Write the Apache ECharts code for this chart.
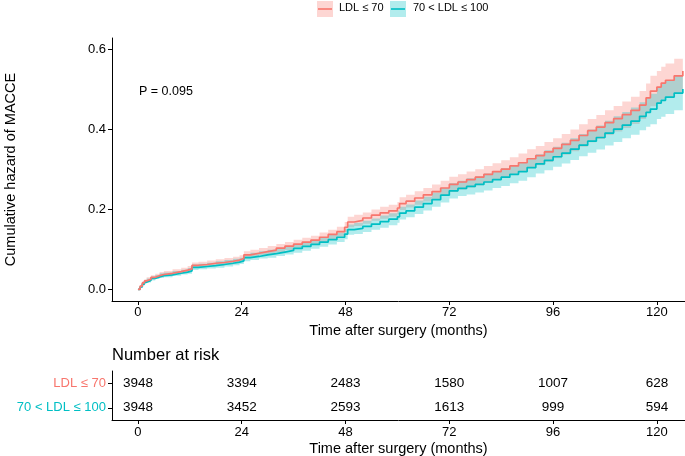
<!DOCTYPE html>
<html><head><meta charset="utf-8">
<script src="https://cdn.jsdelivr.net/npm/echarts@6/dist/echarts.min.js"></script>
<style>html,body{margin:0;padding:0;background:#fff}#c{width:685px;height:456px}</style>
</head><body><div id="c"></div>
<script>
// ---- data ----
const months = [0,0.5,1,1.5,2,3,4,5,6,8,10,11.5,12.5,14,16,18,20,22,23.5,24.5,26,28,30,32,34,36,38,40,42,44,46,47.8,48.5,50,52,54,56,58,60,60.5,62,64,66,68,70,72,74,76,78,80,82,84,86,88,90,92,94,96,98,100,102,104,106,108,110,112,114,116,117.5,118.5,120,121,122,124,126];

const ldl70 = [0,0.008,0.016,0.021,0.025,0.030,0.034,0.037,0.040,0.044,0.048,0.051,0.060,0.062,0.065,0.067,0.070,0.073,0.077,0.086,0.090,0.094,0.098,0.103,0.108,0.113,0.118,0.123,0.130,0.137,0.144,0.155,0.168,0.172,0.178,0.185,0.191,0.196,0.203,0.214,0.220,0.228,0.236,0.244,0.253,0.262,0.268,0.274,0.280,0.287,0.294,0.300,0.308,0.316,0.326,0.334,0.343,0.352,0.362,0.372,0.384,0.396,0.405,0.416,0.426,0.436,0.447,0.460,0.478,0.495,0.505,0.515,0.522,0.533,0.545];
const ldl70Lower = [0,0.005,0.012,0.017,0.020,0.025,0.029,0.031,0.034,0.038,0.042,0.044,0.053,0.055,0.058,0.059,0.062,0.065,0.069,0.077,0.081,0.085,0.088,0.093,0.098,0.102,0.107,0.112,0.118,0.125,0.132,0.142,0.155,0.158,0.164,0.171,0.176,0.181,0.188,0.198,0.204,0.211,0.219,0.226,0.235,0.243,0.249,0.254,0.260,0.266,0.273,0.278,0.286,0.293,0.302,0.310,0.318,0.327,0.336,0.345,0.356,0.367,0.375,0.385,0.394,0.403,0.413,0.425,0.442,0.457,0.465,0.474,0.480,0.490,0.500];
const ldl70Upper = [0,0.011,0.020,0.025,0.030,0.035,0.039,0.043,0.046,0.050,0.054,0.058,0.067,0.069,0.072,0.075,0.078,0.081,0.085,0.095,0.099,0.103,0.108,0.113,0.118,0.124,0.129,0.134,0.142,0.149,0.156,0.168,0.181,0.186,0.192,0.199,0.206,0.211,0.218,0.230,0.236,0.245,0.253,0.262,0.271,0.281,0.287,0.294,0.300,0.308,0.315,0.322,0.330,0.339,0.350,0.358,0.368,0.377,0.388,0.399,0.412,0.425,0.435,0.447,0.458,0.469,0.481,0.495,0.514,0.533,0.545,0.556,0.564,0.576,0.590];

const ldl100 = [0,0.006,0.013,0.018,0.022,0.027,0.031,0.034,0.036,0.040,0.043,0.046,0.055,0.057,0.059,0.062,0.065,0.068,0.071,0.079,0.082,0.086,0.089,0.093,0.097,0.102,0.107,0.112,0.118,0.124,0.130,0.138,0.149,0.152,0.157,0.163,0.169,0.175,0.181,0.190,0.196,0.205,0.214,0.224,0.235,0.246,0.252,0.257,0.262,0.268,0.274,0.280,0.287,0.294,0.304,0.313,0.322,0.331,0.340,0.350,0.360,0.370,0.379,0.390,0.400,0.410,0.420,0.432,0.442,0.450,0.465,0.472,0.480,0.490,0.500];
const ldl100Lower = [0,0.003,0.009,0.014,0.017,0.022,0.026,0.028,0.030,0.034,0.037,0.039,0.048,0.050,0.052,0.054,0.057,0.060,0.063,0.070,0.073,0.077,0.079,0.083,0.087,0.091,0.096,0.101,0.106,0.112,0.118,0.125,0.136,0.138,0.143,0.149,0.154,0.160,0.166,0.174,0.180,0.188,0.197,0.206,0.217,0.227,0.233,0.237,0.242,0.247,0.253,0.258,0.265,0.271,0.280,0.289,0.297,0.306,0.314,0.323,0.332,0.341,0.349,0.359,0.368,0.377,0.386,0.397,0.406,0.412,0.425,0.431,0.438,0.447,0.455];
const ldl100Upper = [0,0.009,0.017,0.022,0.027,0.032,0.036,0.040,0.042,0.046,0.049,0.053,0.062,0.064,0.066,0.070,0.073,0.076,0.079,0.088,0.091,0.095,0.099,0.103,0.107,0.113,0.118,0.123,0.130,0.136,0.142,0.151,0.162,0.166,0.171,0.177,0.184,0.190,0.196,0.206,0.212,0.222,0.231,0.242,0.253,0.265,0.271,0.277,0.282,0.289,0.295,0.302,0.309,0.317,0.328,0.337,0.347,0.356,0.366,0.377,0.388,0.399,0.409,0.421,0.432,0.443,0.454,0.467,0.478,0.488,0.505,0.513,0.522,0.533,0.545];

const groups = ['LDL ≤ 70', '70 < LDL ≤ 100'];
const riskTimes = [0, 24, 48, 72, 96, 120];
const riskLdl70 = [3948, 3394, 2483, 1580, 1007, 628];
const riskLdl100 = [3948, 3452, 2593, 1613, 999, 594];
const xTicks = [0, 24, 48, 72, 96, 120];
const yTicks = [0, 0.2, 0.4, 0.6];
const pText = 'P = 0.095';

// ---- styling ----
const RED = '#F8766D', TEAL = '#00BFC4';
const RED_FILL = 'rgba(248,118,109,0.3)', TEAL_FILL = 'rgba(0,191,196,0.3)';
const FONT = '"Liberation Sans", Arial, sans-serif';
const XMIN = -6, XMAX = 126.5;

const pairs = (a) => months.map((t, i) => [t, a[i]]);

// step-shaped confidence band drawn as one polygon through the axis scales
function band(lo, hi, color) {
  return {
    type: 'custom', xAxisIndex: 0, yAxisIndex: 0, data: [[months[0], lo[0]]], silent: true, z: 1,
    renderItem: function (params, api) {
      const pts = [];
      for (let i = 0; i < months.length; i++) {
        pts.push(api.coord([months[i], hi[i]]));
        if (i < months.length - 1) pts.push(api.coord([months[i + 1], hi[i]]));
      }
      for (let i = months.length - 1; i >= 0; i--) {
        if (i < months.length - 1) pts.push(api.coord([months[i + 1], lo[i]]));
        pts.push(api.coord([months[i], lo[i]]));
      }
      return { type: 'polygon', shape: { points: pts }, style: { fill: color, stroke: null } };
    }
  };
}
function curve(v, color) {
  return { type: 'line', xAxisIndex: 0, yAxisIndex: 0, step: 'end', data: pairs(v), showSymbol: false,
    lineStyle: { color: color, width: 1.7 }, itemStyle: { color: color }, z: 3 };
}

const riskData = [];
riskTimes.forEach((t, i) => { riskData.push([t, 1, riskLdl70[i]]); riskData.push([t, 0, riskLdl100[i]]); });

const axisLineStyle = { show: true, onZero: false, lineStyle: { color: '#000', width: 1 } };
const tickStyle = { show: true, length: 4, lineStyle: { color: '#000', width: 1 } };

const chart = echarts.init(document.getElementById('c'), null, { renderer: 'canvas' });
chart.setOption({
  animation: false,
  backgroundColor: '#fff',
  grid: [
    { left: 112, top: 38, width: 573, height: 263, containLabel: false, outerBoundsMode: 'none' },
    { left: 112, top: 371, width: 573, height: 49, containLabel: false, outerBoundsMode: 'none' }
  ],
  xAxis: [
    { gridIndex: 0, type: 'value', min: XMIN, max: XMAX,
      axisLine: axisLineStyle, axisTick: Object.assign({ customValues: xTicks }, tickStyle),
      axisLabel: { customValues: xTicks, color: '#000', fontSize: 13, fontFamily: FONT, margin: 5 },
      splitLine: { show: false },
      name: 'Time after surgery (months)', nameLocation: 'middle', nameGap: 19,
      nameTextStyle: { color: '#000', fontSize: 14.5, fontFamily: FONT } },
    { gridIndex: 1, type: 'value', min: XMIN, max: XMAX,
      axisLine: axisLineStyle, axisTick: Object.assign({ customValues: xTicks }, tickStyle),
      axisLabel: { customValues: xTicks, color: '#000', fontSize: 13, fontFamily: FONT, margin: 6 },
      splitLine: { show: false },
      name: 'Time after surgery (months)', nameLocation: 'middle', nameGap: 21,
      nameTextStyle: { color: '#000', fontSize: 14.5, fontFamily: FONT } }
  ],
  yAxis: [
    { gridIndex: 0, type: 'value', min: -0.0292, max: 0.6275,
      axisLine: axisLineStyle, axisTick: Object.assign({ customValues: yTicks }, tickStyle),
      axisLabel: { customValues: yTicks, formatter: v => v.toFixed(1), color: '#000', fontSize: 13, fontFamily: FONT, margin: 6 },
      splitLine: { show: false },
      name: 'Cumulative hazard of MACCE', nameLocation: 'middle', nameGap: 94, nameRotate: 90,
      nameTextStyle: { color: '#000', fontSize: 14.5, fontFamily: FONT } },
    { gridIndex: 1, type: 'category', data: [groups[1], groups[0]], boundaryGap: true,
      axisLine: axisLineStyle,
      axisTick: { show: true, alignWithLabel: true, length: 4, lineStyle: { color: '#000' } },
      axisLabel: { color: v => (v === groups[0] ? RED : TEAL), fontSize: 13, fontFamily: FONT, margin: 6 },
      splitLine: { show: false } }
  ],
  series: [
    band(ldl70Lower, ldl70Upper, RED_FILL),
    band(ldl100Lower, ldl100Upper, TEAL_FILL),
    curve(ldl100, TEAL),
    curve(ldl70, RED),
    { type: 'custom', xAxisIndex: 1, yAxisIndex: 1, data: riskData, encode: { x: 0, y: 1 }, silent: true,
      renderItem: function (params, api) {
        const p = api.coord([api.value(0), api.value(1)]);
        return { type: 'text', x: p[0], y: p[1],
          style: { text: String(api.value(2)), fill: '#000', font: '13.5px ' + FONT, align: 'center', verticalAlign: 'middle' } };
      } }
  ],
  graphic: [
    { type: 'rect', left: 317, top: 1, shape: { width: 16, height: 16 }, style: { fill: RED_FILL } },
    { type: 'line', shape: { x1: 318, y1: 9, x2: 332, y2: 9 }, style: { stroke: RED, lineWidth: 1.6 } },
    { type: 'text', left: 339, top: 2.5, style: { text: groups[0], fill: '#000', font: '11px ' + FONT } },
    { type: 'rect', left: 390, top: 1, shape: { width: 16, height: 16 }, style: { fill: TEAL_FILL } },
    { type: 'line', shape: { x1: 391, y1: 9, x2: 405, y2: 9 }, style: { stroke: TEAL, lineWidth: 1.6 } },
    { type: 'text', left: 413, top: 2.5, style: { text: groups[1], fill: '#000', font: '11px ' + FONT } },
    { type: 'text', left: 139, top: 85.5, style: { text: pText, fill: '#000', font: '12.5px ' + FONT } },
    { type: 'text', left: 112, top: 347, style: { text: 'Number at risk', fill: '#000', font: '16.5px ' + FONT } }
  ]
});
</script>
</body></html>
